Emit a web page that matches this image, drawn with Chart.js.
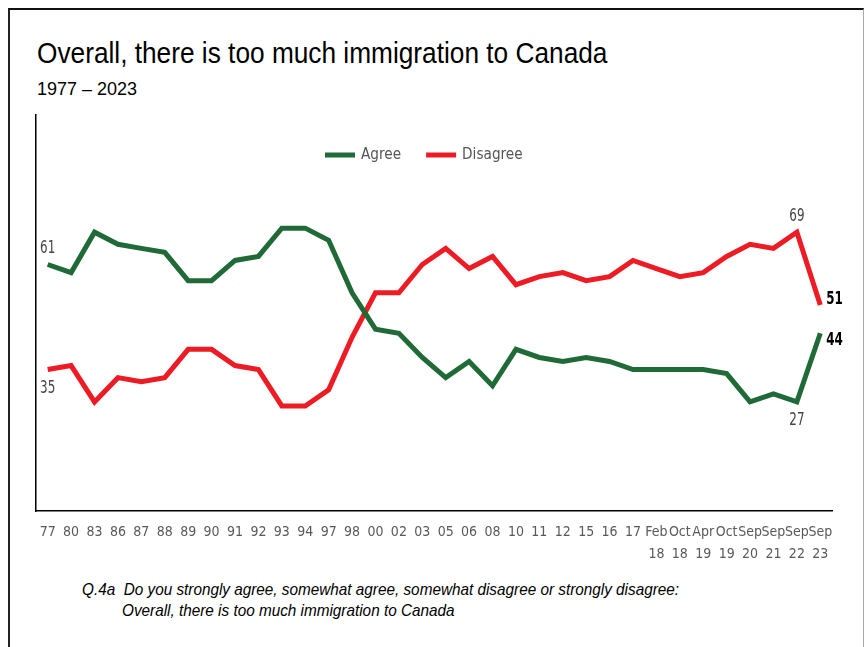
<!DOCTYPE html>
<html>
<head>
<meta charset="utf-8">
<script src="https://cdn.jsdelivr.net/npm/chart.js@4"></script>
<style>
  body { margin: 0; background: #fff; }
  #wrap { position: relative; width: 864px; height: 647px; overflow: hidden; }
  #frame { position: absolute; left: 8px; top: 8px; width: 853px; height: 650px;
           border-top: 2px solid #111; border-left: 2px solid #222; border-right: 1px solid #aaa; }
  .txt { position: absolute; color: #000; font-family: "Liberation Sans", Arial, sans-serif; white-space: nowrap;
         display: inline-block; transform-origin: 0 0; }
  #title { left: 37px; top: 36px; font-size: 30px; transform: scaleX(0.875); }
  #sub { left: 37px; top: 79px; font-size: 18px; }
  #note1 { left: 82px; top: 580px; font-size: 17px; font-style: italic; transform: scaleX(0.9); }
  #note2 { left: 122px; top: 601px; font-size: 17px; font-style: italic; transform: scaleX(0.9); }
  canvas { position: absolute; left: 0; top: 0; }
</style>
</head>
<body>
<div id="wrap">
  <div id="frame"></div>
  <div class="txt" id="title">Overall, there is too much immigration to Canada</div>
  <div class="txt" id="sub">1977 – 2023</div>
  <div class="txt" id="note1">Q.4a&nbsp; Do you strongly agree, somewhat agree, somewhat disagree or strongly disagree:</div>
  <div class="txt" id="note2">Overall, there is too much immigration to Canada</div>
  <canvas id="chart" width="864" height="647"></canvas>
</div>
<script>
// Umfragezeitpunkte (x-Achse)
var labels = ["77","80","83","86","87","88","89","90","91","92","93","94","97","98","00","02","03","05","06","08","10","11","12","15","16","17",
  ["Feb","18"],["Oct","18"],["Apr","19"],["Oct","19"],["Sep","20"],["Sep","21"],["Sep","22"],["Sep","23"]];
// Werte
var agree =    [61,59,69,66,65,64,57,57,62,63,70,70,67,54,45,44,38,33,37,31,40,38,37,38,37,35,35,35,35,34,27,29,27,44];
var disagree = [35,36,27,33,32,33,40,40,36,35,26,26,30,43,54,54,61,65,60,63,56,58,59,57,58,62,60,58,59,63,66,65,69,51];
// Beschriftete Punkte: [Datensatz, Index, Position, fett]
var pointLabels = [[0,0,"above",false],[1,0,"below",false],[1,32,"above",false],[0,32,"below",false],[1,33,"right",true],[0,33,"right",true]];

var condensed = '"DejaVu Sans Condensed", "DejaVu Sans", sans-serif';

// schmalen Text zeichnen (horizontal gestaucht)
function narrowText(ctx, text, x, y, align, sx) {
  ctx.save();
  ctx.translate(x, y);
  ctx.scale(sx, 1);
  ctx.textAlign = align;
  ctx.fillText(text, 0, 0);
  ctx.restore();
}

var extras = {
  id: "extras",
  afterDatasetsDraw: function (chart) {
    var ctx = chart.ctx;
    ctx.save();
    ctx.textBaseline = "middle";
    // Punktbeschriftungen
    pointLabels.forEach(function (p) {
      var pt = chart.getDatasetMeta(p[0]).data[p[1]];
      var v = chart.data.datasets[p[0]].data[p[1]];
      ctx.font = (p[3] ? "bold " : "") + "17px " + condensed;
      ctx.fillStyle = p[3] ? "#000" : "#444";
      if (p[2] == "above") narrowText(ctx, v, pt.x, pt.y - 16, "center", 0.78);
      if (p[2] == "below") narrowText(ctx, v, pt.x, pt.y + 19, "center", 0.78);
      if (p[2] == "right") narrowText(ctx, v, pt.x + 6, pt.y + (p[0] == 1 ? -5 : 7), "left", 0.78);
    });
    // Legende
    var x = 325, y = 155;
    ctx.font = "16.5px " + condensed;
    chart.data.datasets.forEach(function (ds) {
      ctx.strokeStyle = ds.borderColor;
      ctx.lineWidth = 5;
      ctx.beginPath(); ctx.moveTo(x, y); ctx.lineTo(x + 30, y); ctx.stroke();
      ctx.fillStyle = "#555";
      narrowText(ctx, ds.label, x + 36, y, "left", 0.92);
      x += 36 + ctx.measureText(ds.label).width * 0.92 + 25;
    });
    ctx.restore();
  }
};

new Chart(document.getElementById("chart"), {
  type: "line",
  data: {
    labels: labels,
    datasets: [
      { label: "Agree", data: agree, borderColor: "#1f6a36", borderWidth: 5, pointRadius: 0, tension: 0, borderJoinStyle: "miter" },
      { label: "Disagree", data: disagree, borderColor: "#ed1c24", borderWidth: 5, pointRadius: 0, tension: 0, borderJoinStyle: "miter" }
    ]
  },
  options: {
    responsive: false,
    animation: false,
    layout: { padding: { left: 36, top: 115, right: 32, bottom: 0 } },
    plugins: { legend: { display: false }, tooltip: { enabled: false } },
    scales: {
      x: {
        offset: true,
        grid: { display: false },
        border: { display: true, color: "#000", width: 1.5 },
        ticks: { color: "#595959", autoSkip: false, maxRotation: 0, padding: 2,
                 font: { family: condensed, size: 14, lineHeight: 1.6 } },
        afterFit: function (s) { s.height = 136; }
      },
      y: {
        min: 0, max: 98,
        grid: { display: false },
        border: { display: true, color: "#000", width: 1.5 },
        ticks: { display: false },
        afterFit: function (s) { s.width = 0; }
      }
    }
  },
  plugins: [extras]
});
</script>
</body>
</html>
